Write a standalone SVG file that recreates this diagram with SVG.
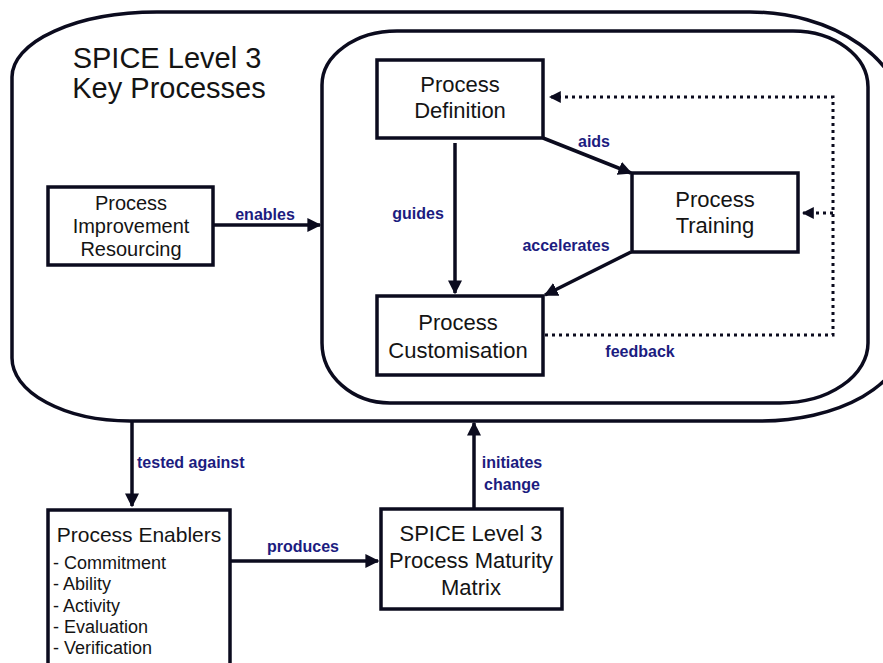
<svg xmlns="http://www.w3.org/2000/svg" width="883" height="663" viewBox="0 0 883 663">
<style>
.frame{fill:none;stroke:#0b0b1e;stroke-width:3.5}
.box{fill:#fff;stroke:#0b0b1e;stroke-width:3.5}
.t{font-family:"Liberation Sans",Arial,sans-serif;fill:#141414;text-anchor:middle}
.lbl{font-family:"Liberation Sans",Arial,sans-serif;fill:#1c1c80;font-weight:bold;font-size:16px}
.c{fill:none;stroke:#0b0b1e;stroke-width:3.5}
.d{fill:none;stroke:#0b0b1e;stroke-width:3;stroke-dasharray:3 4}
</style>
<defs>
<marker id="ah" viewBox="0 0 10 10" refX="9" refY="5" markerWidth="4" markerHeight="4" orient="auto" markerUnits="strokeWidth">
<path d="M0,0 L10,5 L0,10 Z" fill="#0b0b1e"/>
</marker>
<marker id="ahd" viewBox="0 0 10 10" refX="9" refY="5" markerWidth="4" markerHeight="4" orient="auto" markerUnits="strokeWidth">
<path d="M0,0 L10,5 L0,10 Z" fill="#0b0b1e"/>
</marker>
</defs>
<rect width="883" height="663" fill="#fff"/>
<g id="outer-frame">
<path class="frame" d="M157,12 H750 A155 110 0 0 1 905 122 V338 A145 83 0 0 1 760 421 H130 A118 63 0 0 1 12 358 V77 A145 65 0 0 1 157 12 Z"/>
<text class="t" font-size="29" x="167" y="68">SPICE Level 3</text>
<text class="t" font-size="29" x="169" y="98">Key Processes</text>
</g>
<g id="inner-frame">
<path class="frame" d="M397,31 H793 A75 56 0 0 1 868 87 V343 A88 60 0 0 1 780 403 H390 A68 60 0 0 1 322 343 V85 A75 54 0 0 1 397 31 Z"/>
</g>
<g id="connectors">
<line class="c" x1="213" y1="225" x2="320" y2="225" marker-end="url(#ah)"/>
<line class="c" x1="455" y1="143" x2="455" y2="293" marker-end="url(#ah)"/>
<line class="c" x1="543" y1="138" x2="631" y2="173" marker-end="url(#ah)"/>
<line class="c" x1="631" y1="252" x2="545" y2="295" marker-end="url(#ah)"/>
<polyline class="d" points="545,335 833,335 833,97 550,97" marker-end="url(#ahd)"/>
<line class="d" x1="833" y1="213" x2="803" y2="213" marker-end="url(#ahd)"/>
<line class="c" x1="132" y1="421" x2="132" y2="506" marker-end="url(#ah)"/>
<line class="c" x1="231" y1="561" x2="378" y2="561" marker-end="url(#ah)"/>
<line class="c" x1="474" y1="508" x2="474" y2="423" marker-end="url(#ah)"/>
<text class="lbl" x="265" y="220" text-anchor="middle">enables</text>
<text class="lbl" x="418" y="219" text-anchor="middle">guides</text>
<text class="lbl" x="594" y="147" text-anchor="middle">aids</text>
<text class="lbl" x="566" y="251" text-anchor="middle">accelerates</text>
<text class="lbl" x="640" y="357" text-anchor="middle">feedback</text>
<text class="lbl" x="137" y="468">tested against</text>
<text class="lbl" x="303" y="552" text-anchor="middle">produces</text>
<text class="lbl" x="512" y="468" text-anchor="middle">initiates</text>
<text class="lbl" x="512" y="490" text-anchor="middle">change</text>
</g>
<g id="process-definition">
<rect class="box" x="377" y="60" width="166" height="78"/>
<text class="t" font-size="22" x="460" y="92">Process</text>
<text class="t" font-size="22" x="460" y="118">Definition</text>
</g>
<g id="process-training">
<rect class="box" x="632" y="173" width="166" height="79"/>
<text class="t" font-size="22" x="715" y="207">Process</text>
<text class="t" font-size="22" x="715" y="233">Training</text>
</g>
<g id="process-customisation">
<rect class="box" x="377" y="296" width="166" height="79"/>
<text class="t" font-size="22" x="458" y="330">Process</text>
<text class="t" font-size="22" x="458" y="358">Customisation</text>
</g>
<g id="process-improvement-resourcing">
<rect class="box" x="48" y="187" width="165" height="78"/>
<text class="t" font-size="20" x="131" y="210">Process</text>
<text class="t" font-size="20" x="131" y="233">Improvement</text>
<text class="t" font-size="20" x="131" y="256">Resourcing</text>
</g>
<g id="process-enablers">
<rect class="box" x="48" y="510" width="182" height="170"/>
<text class="t" font-size="21" x="139" y="542">Process Enablers</text>
<g font-family="Liberation Sans, Arial, sans-serif" font-size="18" fill="#141414">
<text x="53" y="569">- Commitment</text>
<text x="53" y="590">- Ability</text>
<text x="53" y="612">- Activity</text>
<text x="53" y="633">- Evaluation</text>
<text x="53" y="654">- Verification</text>
</g>
</g>
<g id="maturity-matrix">
<rect class="box" x="381" y="509" width="181" height="100"/>
<text class="t" font-size="22" x="471" y="541">SPICE Level 3</text>
<text class="t" font-size="22" x="471" y="568">Process Maturity</text>
<text class="t" font-size="22" x="471" y="595">Matrix</text>
</g>
</svg>
